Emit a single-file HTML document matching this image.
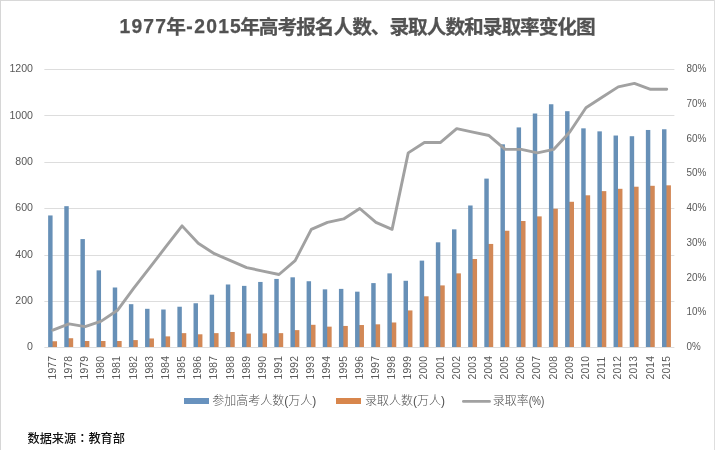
<!DOCTYPE html>
<html lang="zh-CN"><head><meta charset="utf-8"><title>1977年-2015年高考报名人数、录取人数和录取率变化图</title>
<style>html,body{margin:0;padding:0;background:#fff;}body{width:715px;height:450px;overflow:hidden;}svg{display:block;}text{font-family:"Liberation Sans","Noto Sans CJK SC",sans-serif;}.ax{font-size:10.6px;fill:#595959;}.pc{font-size:9.9px;}.xl{font-size:10.3px;letter-spacing:0.15px;fill:#595959;}.lg{font-size:12px;fill:#505050;font-weight:300;}.ttl{font-size:19.7px;letter-spacing:-1.03px;font-weight:bold;fill:#525252;stroke:#525252;stroke-width:0.25px;}.dg{font-family:"Liberation Sans",sans-serif;font-size:19.3px;letter-spacing:1.2px;}.src{font-size:12.2px;fill:#111;font-weight:500;}.tc{font-family:"Liberation Sans","Noto Sans CJK TC",sans-serif;}</style></head><body>
<svg width="715" height="450" viewBox="0 0 715 450">
<rect x="0" y="0" width="715" height="450" fill="#ffffff"/>
<rect x="0" y="0" width="715" height="1" fill="#d8d8d8"/>
<rect x="0" y="0" width="1" height="450" fill="#d6d6d6"/>
<rect x="714" y="0" width="1" height="450" fill="#dedede"/>
<text class="ttl" y="34.2"><tspan class="dg" x="119.50" y="32.9">1977</tspan><tspan x="166.20" y="34.2">年</tspan><tspan class="dg" x="186.30" y="32.9">-</tspan><tspan class="dg" x="194.30" y="32.9">2015</tspan><tspan x="240.20" y="34.2">年高考报名人数、录取人数和录取率变化图</tspan></text>
<rect x="44.35" y="69" width="630.05" height="1" fill="#dddddd"/>
<rect x="44.35" y="115" width="630.05" height="1" fill="#dddddd"/>
<rect x="44.35" y="162" width="630.05" height="1" fill="#dddddd"/>
<rect x="44.35" y="208" width="630.05" height="1" fill="#dddddd"/>
<rect x="44.35" y="255" width="630.05" height="1" fill="#dddddd"/>
<rect x="44.35" y="301" width="630.05" height="1" fill="#dddddd"/>
<rect x="44.35" y="347" width="630.05" height="1" fill="#dddddd"/>
<text class="ax" x="33" y="350.20" text-anchor="end">0</text>
<text class="ax" x="33" y="303.87" text-anchor="end">200</text>
<text class="ax" x="33" y="257.53" text-anchor="end">400</text>
<text class="ax" x="33" y="211.20" text-anchor="end">600</text>
<text class="ax" x="33" y="164.87" text-anchor="end">800</text>
<text class="ax" x="33" y="118.53" text-anchor="end">1000</text>
<text class="ax" x="33" y="72.20" text-anchor="end">1200</text>
<text class="ax" x="686.6" y="350.20" textLength="14.2" lengthAdjust="spacingAndGlyphs">0%</text>
<text class="ax" x="686.6" y="315.45" textLength="19.8" lengthAdjust="spacingAndGlyphs">10%</text>
<text class="ax" x="686.6" y="280.70" textLength="19.8" lengthAdjust="spacingAndGlyphs">20%</text>
<text class="ax" x="686.6" y="245.95" textLength="19.8" lengthAdjust="spacingAndGlyphs">30%</text>
<text class="ax" x="686.6" y="211.20" textLength="19.8" lengthAdjust="spacingAndGlyphs">40%</text>
<text class="ax" x="686.6" y="176.45" textLength="19.8" lengthAdjust="spacingAndGlyphs">50%</text>
<text class="ax" x="686.6" y="141.70" textLength="19.8" lengthAdjust="spacingAndGlyphs">60%</text>
<text class="ax" x="686.6" y="106.95" textLength="19.8" lengthAdjust="spacingAndGlyphs">70%</text>
<text class="ax" x="686.6" y="72.20" textLength="19.8" lengthAdjust="spacingAndGlyphs">80%</text>
<g fill="#d28856">
<rect x="51.58" y="341.25" width="5.45" height="5.75"/>
<rect x="67.73" y="338.23" width="5.45" height="8.77"/>
<rect x="83.89" y="341.01" width="5.45" height="5.99"/>
<rect x="100.04" y="341.01" width="5.45" height="5.99"/>
<rect x="116.20" y="341.01" width="5.45" height="5.99"/>
<rect x="132.35" y="340.09" width="5.45" height="6.91"/>
<rect x="148.51" y="338.46" width="5.45" height="8.54"/>
<rect x="164.66" y="336.38" width="5.45" height="10.62"/>
<rect x="180.82" y="333.14" width="5.45" height="13.86"/>
<rect x="196.97" y="334.30" width="5.45" height="12.71"/>
<rect x="213.13" y="333.14" width="5.45" height="13.86"/>
<rect x="229.28" y="331.98" width="5.45" height="15.02"/>
<rect x="245.44" y="333.60" width="5.45" height="13.40"/>
<rect x="261.59" y="333.37" width="5.45" height="13.63"/>
<rect x="277.75" y="333.14" width="5.45" height="13.86"/>
<rect x="293.90" y="330.12" width="5.45" height="16.88"/>
<rect x="310.06" y="324.80" width="5.45" height="22.20"/>
<rect x="326.21" y="326.65" width="5.45" height="20.35"/>
<rect x="342.37" y="325.95" width="5.45" height="21.04"/>
<rect x="358.52" y="325.03" width="5.45" height="21.97"/>
<rect x="374.68" y="324.33" width="5.45" height="22.67"/>
<rect x="390.83" y="322.48" width="5.45" height="24.52"/>
<rect x="406.99" y="310.43" width="5.45" height="36.57"/>
<rect x="423.14" y="296.30" width="5.45" height="50.70"/>
<rect x="439.30" y="285.41" width="5.45" height="61.59"/>
<rect x="455.45" y="273.37" width="5.45" height="73.63"/>
<rect x="471.61" y="259.00" width="5.45" height="88.00"/>
<rect x="487.76" y="243.94" width="5.45" height="103.05"/>
<rect x="503.92" y="230.74" width="5.45" height="116.26"/>
<rect x="520.07" y="221.01" width="5.45" height="125.99"/>
<rect x="536.23" y="216.38" width="5.45" height="130.62"/>
<rect x="552.38" y="208.73" width="5.45" height="138.27"/>
<rect x="568.54" y="201.78" width="5.45" height="145.22"/>
<rect x="584.69" y="195.30" width="5.45" height="151.70"/>
<rect x="600.85" y="191.12" width="5.45" height="155.88"/>
<rect x="617.00" y="188.81" width="5.45" height="158.19"/>
<rect x="633.16" y="186.72" width="5.45" height="160.28"/>
<rect x="649.31" y="185.80" width="5.45" height="161.20"/>
<rect x="665.47" y="185.33" width="5.45" height="161.67"/>
</g>
<g fill="#6790b7">
<rect x="48.13" y="215.45" width="4.45" height="131.55"/>
<rect x="64.28" y="206.18" width="4.45" height="140.82"/>
<rect x="80.44" y="239.08" width="4.45" height="107.92"/>
<rect x="96.59" y="270.36" width="4.45" height="76.65"/>
<rect x="112.75" y="287.50" width="4.45" height="59.50"/>
<rect x="128.90" y="304.18" width="4.45" height="42.82"/>
<rect x="145.06" y="308.81" width="4.45" height="38.19"/>
<rect x="161.21" y="309.51" width="4.45" height="37.49"/>
<rect x="177.37" y="306.73" width="4.45" height="40.27"/>
<rect x="193.52" y="303.25" width="4.45" height="43.75"/>
<rect x="209.68" y="294.68" width="4.45" height="52.32"/>
<rect x="225.83" y="284.49" width="4.45" height="62.51"/>
<rect x="241.99" y="285.88" width="4.45" height="61.12"/>
<rect x="258.14" y="281.94" width="4.45" height="65.06"/>
<rect x="274.30" y="278.93" width="4.45" height="68.07"/>
<rect x="290.45" y="277.31" width="4.45" height="69.70"/>
<rect x="306.61" y="281.24" width="4.45" height="65.76"/>
<rect x="322.76" y="289.35" width="4.45" height="57.65"/>
<rect x="338.92" y="288.89" width="4.45" height="58.11"/>
<rect x="355.07" y="291.67" width="4.45" height="55.33"/>
<rect x="371.23" y="283.10" width="4.45" height="63.90"/>
<rect x="387.38" y="273.37" width="4.45" height="73.63"/>
<rect x="403.54" y="280.78" width="4.45" height="66.22"/>
<rect x="419.69" y="260.62" width="4.45" height="86.38"/>
<rect x="435.85" y="242.32" width="4.45" height="104.68"/>
<rect x="452.00" y="229.35" width="4.45" height="117.65"/>
<rect x="468.16" y="205.49" width="4.45" height="141.51"/>
<rect x="484.31" y="178.61" width="4.45" height="168.39"/>
<rect x="500.47" y="144.33" width="4.45" height="202.67"/>
<rect x="516.62" y="127.42" width="4.45" height="219.58"/>
<rect x="532.78" y="113.52" width="4.45" height="233.48"/>
<rect x="548.93" y="104.25" width="4.45" height="242.75"/>
<rect x="565.09" y="111.20" width="4.45" height="235.80"/>
<rect x="581.24" y="128.34" width="4.45" height="218.66"/>
<rect x="597.40" y="131.36" width="4.45" height="215.64"/>
<rect x="613.55" y="135.53" width="4.45" height="211.47"/>
<rect x="629.71" y="136.22" width="4.45" height="210.78"/>
<rect x="645.86" y="129.97" width="4.45" height="217.03"/>
<rect x="662.02" y="129.27" width="4.45" height="217.73"/>
</g>
<polyline points="52.83,330.12 68.98,323.87 85.14,326.65 101.29,321.09 117.45,310.32 133.60,288.43 149.76,267.57 165.91,246.73 182.07,225.88 198.22,243.25 214.38,253.68 230.53,260.62 246.69,267.57 262.84,271.05 279.00,274.52 295.15,260.62 311.31,229.35 327.46,222.40 343.62,218.92 359.77,208.50 375.93,222.40 392.08,229.35 408.24,152.90 424.39,142.47 440.55,142.47 456.70,128.58 472.86,132.05 489.01,135.53 505.17,149.42 521.32,149.42 537.48,152.90 553.63,149.42 569.79,132.05 585.94,107.72 602.10,97.30 618.25,86.88 634.41,83.40 650.56,89.31 666.72,89.31" fill="none" stroke="#a1a1a1" stroke-width="2.9" stroke-linejoin="round" stroke-linecap="round"/>
<text class="xl" transform="translate(55.83,379.4) rotate(-90)">1977</text>
<text class="xl" transform="translate(71.98,379.4) rotate(-90)">1978</text>
<text class="xl" transform="translate(88.14,379.4) rotate(-90)">1979</text>
<text class="xl" transform="translate(104.29,379.4) rotate(-90)">1980</text>
<text class="xl" transform="translate(120.45,379.4) rotate(-90)">1981</text>
<text class="xl" transform="translate(136.60,379.4) rotate(-90)">1982</text>
<text class="xl" transform="translate(152.76,379.4) rotate(-90)">1983</text>
<text class="xl" transform="translate(168.91,379.4) rotate(-90)">1984</text>
<text class="xl" transform="translate(185.07,379.4) rotate(-90)">1985</text>
<text class="xl" transform="translate(201.22,379.4) rotate(-90)">1986</text>
<text class="xl" transform="translate(217.38,379.4) rotate(-90)">1987</text>
<text class="xl" transform="translate(233.53,379.4) rotate(-90)">1988</text>
<text class="xl" transform="translate(249.69,379.4) rotate(-90)">1989</text>
<text class="xl" transform="translate(265.84,379.4) rotate(-90)">1990</text>
<text class="xl" transform="translate(282.00,379.4) rotate(-90)">1991</text>
<text class="xl" transform="translate(298.15,379.4) rotate(-90)">1992</text>
<text class="xl" transform="translate(314.31,379.4) rotate(-90)">1993</text>
<text class="xl" transform="translate(330.46,379.4) rotate(-90)">1994</text>
<text class="xl" transform="translate(346.62,379.4) rotate(-90)">1995</text>
<text class="xl" transform="translate(362.77,379.4) rotate(-90)">1996</text>
<text class="xl" transform="translate(378.93,379.4) rotate(-90)">1997</text>
<text class="xl" transform="translate(395.08,379.4) rotate(-90)">1998</text>
<text class="xl" transform="translate(411.24,379.4) rotate(-90)">1999</text>
<text class="xl" transform="translate(427.39,379.4) rotate(-90)">2000</text>
<text class="xl" transform="translate(443.55,379.4) rotate(-90)">2001</text>
<text class="xl" transform="translate(459.70,379.4) rotate(-90)">2002</text>
<text class="xl" transform="translate(475.86,379.4) rotate(-90)">2003</text>
<text class="xl" transform="translate(492.01,379.4) rotate(-90)">2004</text>
<text class="xl" transform="translate(508.17,379.4) rotate(-90)">2005</text>
<text class="xl" transform="translate(524.32,379.4) rotate(-90)">2006</text>
<text class="xl" transform="translate(540.48,379.4) rotate(-90)">2007</text>
<text class="xl" transform="translate(556.63,379.4) rotate(-90)">2008</text>
<text class="xl" transform="translate(572.79,379.4) rotate(-90)">2009</text>
<text class="xl" transform="translate(588.94,379.4) rotate(-90)">2010</text>
<text class="xl" transform="translate(605.10,379.4) rotate(-90)">2011</text>
<text class="xl" transform="translate(621.25,379.4) rotate(-90)">2012</text>
<text class="xl" transform="translate(637.41,379.4) rotate(-90)">2013</text>
<text class="xl" transform="translate(653.56,379.4) rotate(-90)">2014</text>
<text class="xl" transform="translate(669.72,379.4) rotate(-90)">2015</text>
<rect x="184" y="398" width="25" height="6" fill="#6892be"/>
<text class="lg" x="212.2" y="405.4">参加高考人数(万人)</text>
<rect x="336" y="398" width="25" height="6" fill="#d8864c"/>
<text class="lg" x="365.0" y="405.4">录取人数(万人)</text>
<line x1="463.4" y1="401.4" x2="489.5" y2="401.4" stroke="#a1a1a1" stroke-width="2.8" stroke-linecap="round"/>
<text class="lg" x="492.7" y="405.4">录取率<tspan textLength="15.6" lengthAdjust="spacingAndGlyphs">(%)</tspan></text>
<text class="src" x="27.5" y="443.2">数据来源<tspan class="tc" lang="zh-TW">：</tspan>教育部</text>
</svg></body></html>
